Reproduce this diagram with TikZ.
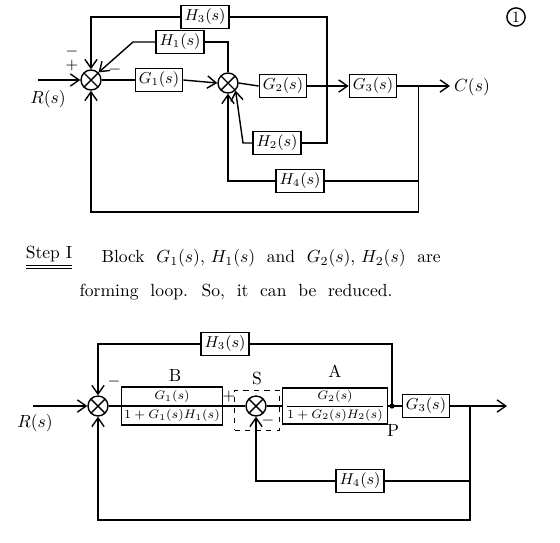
\documentclass[tikz,border=0pt]{standalone}
\usepackage{amsmath}
\usetikzlibrary{arrows.meta,calc,shapes.multipart}

\tikzset{
  blk/.style={draw, thick, inner sep=2pt, font=\small},
  frac/.style={draw, thick, inner sep=1.5pt, font=\scriptsize},
  split/.style={draw, thick, rectangle split, rectangle split parts=2, inner sep=1.5pt, font=\scriptsize},
  sumj/.style={circle, draw, thick, minimum size=0.4cm, inner sep=0pt,
    path picture={\draw (path picture bounding box.north west) -- (path picture bounding box.south east)
      (path picture bounding box.north east) -- (path picture bounding box.south west);}},
  sig/.style={thick, -{Straight Barb[length=5pt,width=7pt]}},
  sgn/.style={font=\small}
}

\begin{document}
\begin{tikzpicture}[x=0.02cm, y=-0.02cm, thick]
\useasboundingbox (0,0) rectangle (560,542);
% Given system
\node[sumj] (sa) at (91,80){};
\node[blk] (g1) at (159,80){$G_1(s)$};
\node[sumj] (sb) at (228,83){};
\node[blk] (g2) at (283,86){$G_2(s)$};
\node[blk] (g3) at (373,86){$G_3(s)$};
\node[blk] (h1) at (180,42){$H_1(s)$};
\node[blk] (h2) at (277,143){$H_2(s)$};
\node[blk] (h3) at (205,17){$H_3(s)$};
\node[blk] (h4) at (300,181){$H_4(s)$};
\coordinate (rin) at (38,80);
\coordinate (cout) at (450,86);
\coordinate (ta) at ($(g2.east)!0.48!(g3.west)$);
\coordinate (tb) at ($(g3.east)!0.4!(cout)$);
\coordinate (h1k) at (133,42);
\coordinate (h2k) at (243,143);
\node (rl) at (48,99){$R(s)$};
\node (cl) at (472,87){$C(s)$};
\node[sgn] (ma) at (72,52){$-$};
\node[sgn] (pa) at (72,66){$+$};
\node[sgn] (mb) at (115,70){$-$};
\node[circle, draw, inner sep=1pt, font=\small] (pg) at (516,17){1};
 \draw[sig] (rin) -- (sa.west);
 \draw (sa.east) -- (g1.west);
 \draw[sig] (g1.east) -- (sb.west);
 \draw (sb.east) -- (g2.west);
 \draw[sig] (g2.east) -- (g3.west);
 \draw[sig] (g3.east) -- (cout);
\draw (sb.north) |- (h1.east);
\draw[sig] (h1.west) -- (h1k) -- (sa.north east);
\draw[sig] (h3.west) -| (sa.north);
\draw (h3.east) -| (ta) |- (h2.east);
\draw[sig] (h2.west) -- (h2k) -- (sb.south east);
\draw (tb) |- (h4.east);
\draw[sig] (h4.west) -| (sb.south);
\draw[sig] (tb) -- (tb |- 0,212) -| (sa.south);
% Step I text
\node (step) at (49,258){\underline{\underline{Step I}}};
\node[anchor=west] (l1) at (95,258){Block \ $G_1(s)$,\ $H_1(s)$ \ and \ $G_2(s)$,\ $H_2(s)$ \ are};
\node[anchor=west] (l2) at (73,292){forming \ loop. \ So, \ it \ can \ be \ reduced.};
% Reduced system
\node[sumj] (sc) at (98,406){};
\node[split] (bk) at (172,406){$G_1(s)$\nodepart{second}$1+G_1(s)H_1(s)$};
\node[sumj] (sd) at (256,406){};
\node[draw, dashed, thin, minimum width=0.9cm, minimum height=0.8cm] (sbox) at (257,410){};
\node[frac] (ak) at (335,406){$\dfrac{G_2(s)}{1+G_2(s)H_2(s)}$};
\node[blk] (g3b) at (426,406){$G_3(s)$};
\node[blk] (h3b) at (225,344){$H_3(s)$};
\node[blk] (h4b) at (360,481){$H_4(s)$};
\coordinate (rin2) at (33,406);
\coordinate (cout2) at (507,406);
\coordinate (p) at (392,406);
\coordinate (tc) at (470,406);
\node (rl2) at (35,423){$R(s)$};
\node (lb) at (175,375){B};
\node (ls) at (257,378){S};
\node (la) at (335,371){A};
\node (lp) at (393,430){P};
\node[sgn] (mc) at (114,382){$-$};
\node[sgn] (pd) at (229,397){$+$};
\node[sgn] (md) at (268,421){$-$};
 \draw[sig] (rin2) -- (sc.west);
 \draw (sc.east) -- (bk.west);
 \draw (bk.east) -- (sd.west);
 \draw (sd.east) -- (ak.west);
 \draw (ak.east) -- (p) -- (g3b.west);
 \draw[sig] (g3b.east) -- (cout2);
\fill (p) circle (1.5pt);
\draw (p) |- (h3b.east);
\draw[sig] (h3b.west) -| (sc.north);
\draw (tc) |- (h4b.east);
\draw[sig] (h4b.west) -| (sd.south);
\draw[sig] (tc) -- (tc |- 0,520) -| (sc.south);
\end{tikzpicture}
\end{document}
